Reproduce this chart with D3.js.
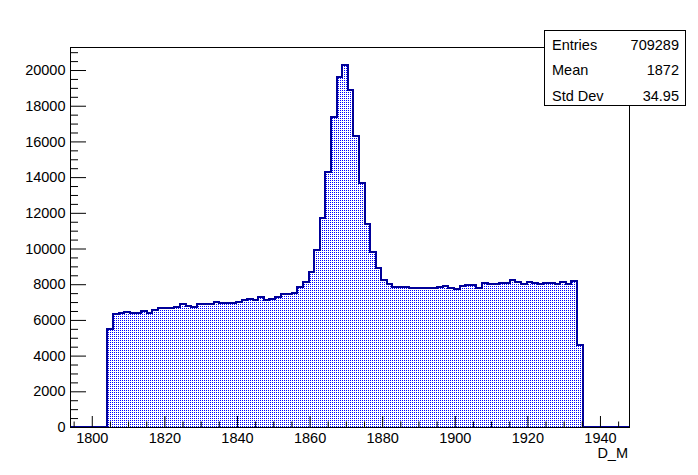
<!DOCTYPE html>
<html><head><meta charset="utf-8">
<script src="https://cdn.jsdelivr.net/npm/d3@7"></script>
<style>
body{margin:0;background:#fff;}
svg{display:block;}
text{font-family:"Liberation Sans",Arial,Helvetica,sans-serif;}
</style>
</head><body>
<svg id="c" width="698" height="475"></svg>
<script>
// ---- data ----
const xRange = [1794, 1948];
const binLow = 1804.3;
const binWidth = 1.54;
const counts = [
  5473, 6350, 6405, 6460, 6405, 6405, 6515, 6405, 6570, 6665,
  6665, 6665, 6740, 6890, 6800, 6740, 6910, 6910, 6910, 7003,
  6950, 6950, 6950, 7003, 7115, 7170, 7115, 7300, 7130, 7190,
  7300, 7433, 7433, 7525, 7862, 8142, 8703, 9916, 11726, 14286,
  17386, 19627, 20280, 18880, 16322, 13690, 11355, 9823, 8888, 8235,
  8011, 7862, 7862, 7862, 7806, 7806, 7806, 7806, 7806, 7862,
  7918, 7806, 7750, 7918, 7974, 7974, 7806, 8067, 7993, 8030,
  8086, 8086, 8235, 8123, 8030, 8123, 8086, 8030, 8086, 8086,
  8030, 8142, 8030, 8179, 4594
];
const yMax = 21290;
const xMajorTicks = [1800, 1820, 1840, 1860, 1880, 1900, 1920, 1940];
const xMinorTicks = [1795,1805,1810,1815,1825,1830,1835,1845,1850,1855,1865,1870,1875,1885,1890,1895,1905,1910,1915,1925,1930,1935,1945];
const yMajorTicks = [0, 2000, 4000, 6000, 8000, 10000, 12000, 14000, 16000, 18000, 20000];
const yMinorStep = 500;
const xTitle = "D_M";
const statLabels = ["Entries", "Mean", "Std Dev"];
const statValues = ["709289", "1872", "34.95"];

// ---- layout ----
const L = 70, R = 629, T = 47, B = 427;
const svg = d3.select("#c");
const x = d3.scaleLinear().domain(xRange).range([L, R]);
const y = d3.scaleLinear().domain([0, yMax]).range([B, T]);

// pattern (ROOT-like fill style 3001)
const defs = svg.append("defs");
const pat = defs.append("pattern").attr("id", "dots")
  .attr("patternUnits", "userSpaceOnUse").attr("width", 2).attr("height", 2);
pat.append("rect").attr("x", 0).attr("y", 0).attr("width", 1).attr("height", 1)
  .attr("fill", "#0000ff").attr("shape-rendering", "crispEdges");

// histogram outline points
const pts = [[xRange[0], 0], [binLow, 0]];
counts.forEach((c, i) => {
  pts.push([binLow + i * binWidth, c]);
  pts.push([binLow + (i + 1) * binWidth, c]);
});
const binHigh = binLow + counts.length * binWidth;
pts.push([binHigh, 0]);
pts.push([xRange[1], 0]);

const line = d3.line().x(d => x(d[0])).y(d => y(d[1]));
svg.append("path").attr("d", line(pts) + "Z")
  .attr("fill", "url(#dots)").attr("stroke", "none");
svg.append("path").attr("d", line(pts))
  .attr("fill", "none").attr("stroke", "#000099").attr("stroke-width", 2)
  .attr("stroke-linejoin", "miter").attr("shape-rendering", "crispEdges");

// frame
svg.append("rect").attr("x", L + 0.5).attr("y", T + 0.5)
  .attr("width", R - L).attr("height", B - T)
  .attr("fill", "none").attr("stroke", "#000").attr("stroke-width", 1);

// x axis
const gx = svg.append("g").attr("transform", `translate(0,${B})`);
gx.call(d3.axisBottom(x).tickValues(xMajorTicks).tickSize(-11).tickPadding(5.5).tickFormat(d3.format("d")));
gx.append("g").call(d3.axisBottom(x).tickValues(xMinorTicks).tickSize(-5.5).tickFormat(""));
gx.selectAll(".domain").remove();
gx.selectAll("text").attr("font-size", "14.5px").attr("fill", "#000")
  .style("font-family", "'Liberation Sans', Arial, sans-serif");
gx.selectAll("line").attr("stroke", "#000");

// y axis
const yMinor = d3.range(0, yMax + 1, yMinorStep).filter(v => !yMajorTicks.includes(v));
const gy = svg.append("g").attr("transform", `translate(${L},0)`);
gy.call(d3.axisLeft(y).tickValues(yMajorTicks).tickSize(-16).tickPadding(4.5).tickFormat(d3.format("d")));
gy.append("g").call(d3.axisLeft(y).tickValues(yMinor).tickSize(-8).tickFormat(""));
gy.selectAll(".domain").remove();
gy.selectAll("text").attr("font-size", "14.5px").attr("fill", "#000")
  .style("font-family", "'Liberation Sans', Arial, sans-serif");
gy.selectAll("line").attr("stroke", "#000");

// x title
svg.append("text").attr("x", 628).attr("y", 457.5).attr("text-anchor", "end")
  .attr("font-size", "14.5px").text(xTitle);

// stats box
const sb = svg.append("g");
sb.append("rect").attr("x", 544.5).attr("y", 30.5).attr("width", 141).attr("height", 75)
  .attr("fill", "#fff").attr("stroke", "#000").attr("stroke-width", 1);
statLabels.forEach((t, i) => {
  const yy = 49.5 + i * 25.5;
  sb.append("text").attr("x", 552).attr("y", yy).attr("font-size", "14.5px").text(t);
  sb.append("text").attr("x", 679).attr("y", yy).attr("text-anchor", "end")
    .attr("font-size", "14.5px").text(statValues[i]);
});
</script>
</body></html>
